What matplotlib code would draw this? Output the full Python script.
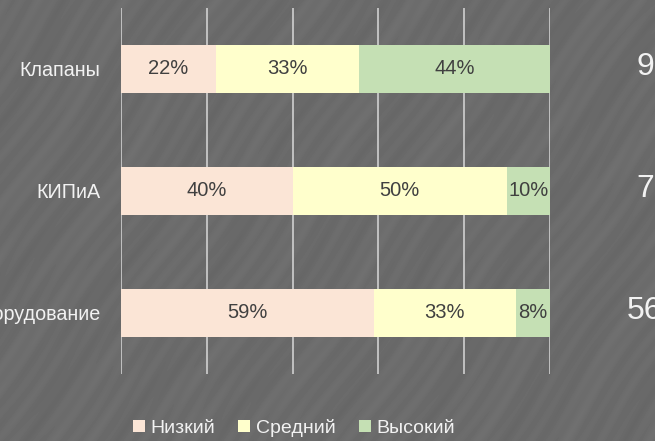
import matplotlib
matplotlib.use("Agg")
import matplotlib.pyplot as plt
import matplotlib.transforms as mtransforms
import numpy as np
from matplotlib.patches import Patch

categories = ["Клапаны", "КИПиА", "Оборудование"]
low = [22.2, 40.0, 59.0]
mid = [33.3, 50.0, 33.0]
high = [44.4, 10.0, 8.0]
totals = [9, 7, 56]
series_names = ["Низкий", "Средний", "Высокий"]
colors = ["#FBE5D6", "#FFFFCC", "#C5E0B4"]
xticks = [0, 20, 40, 60, 80, 100]

FONT = ["Liberation Sans Narrow", "Liberation Sans", "DejaVu Sans"]

fig = plt.figure(figsize=(6.55, 4.41), dpi=100)
fig.patch.set_facecolor("#6b6b6b")

# subtle diagonal brushed texture of the background
bg = fig.add_axes([0, 0, 1, 1], zorder=-10)
H, W = 441, 655
yy, xx = np.mgrid[0:H, 0:W].astype(float)
u = 0.82 * xx + 0.57 * yy
v = 0.57 * xx - 0.82 * yy
tex = (107 + 2.0 * np.sin(u / 2.3 + 1.5 * np.sin(v / 37.0))
       + 1.6 * np.sin(u / 5.9 + 2.0 * np.sin(v / 61.0) + 1.0)
       + 1.3 * np.sin(u / 13.7 + v / 150.0))
bg.imshow(tex, cmap="gray", vmin=0, vmax=255, aspect="auto", interpolation="bilinear")
bg.set_axis_off()

ax = fig.add_axes([121/655, 1-374/441, 429/655, 366/441])
ax.set_facecolor("none")
y = np.arange(len(categories))
ax.set_xlim(0, 100)
ax.set_ylim(len(categories)-0.5, -0.5)

for xv in xticks:
    ax.axvline(xv, color="#D9D9D9", lw=1.1, zorder=1)

left = np.zeros(len(categories))
for vals, col in zip([low, mid, high], colors):
    bars = ax.barh(y, vals, left=left, height=0.4, color=col, zorder=2)
    for b, v_ in zip(bars, vals):
        cx = b.get_x() + b.get_width()/2
        ax.text(cx, b.get_y() + b.get_height()/2, f"{round(v_)}%", ha="center", va="center",
                fontsize=14.5, color="#404040", family=FONT, zorder=3)
    left += np.array(vals)

ax.set_xticks([])
ax.set_yticks(y)
ax.set_yticklabels(categories, family=FONT, fontsize=14.2, color="#F2F2F2")
ax.tick_params(axis="y", length=0, pad=15)
for s in ax.spines.values():
    s.set_visible(False)

trans = mtransforms.blended_transform_factory(fig.transFigure, ax.transData)
for yi, t in zip(y, totals):
    ax.text(645/655, yi - 0.02, str(t), transform=trans, ha="center", va="center",
            fontsize=23, color="#F2F2F2", family=FONT, clip_on=False)

handles = [Patch(facecolor=c, edgecolor="none") for c in colors]
leg = fig.legend(handles, series_names, loc="center", bbox_to_anchor=(294/655, 1-428/441),
                 ncol=3, frameon=False, prop={"family": FONT, "size": 14},
                 handlelength=0.6, handleheight=0.6, handletextpad=0.3, columnspacing=1.2)
for txt in leg.get_texts():
    txt.set_color("#F2F2F2")

fig.savefig("out.png", dpi=100, facecolor=fig.get_facecolor())
